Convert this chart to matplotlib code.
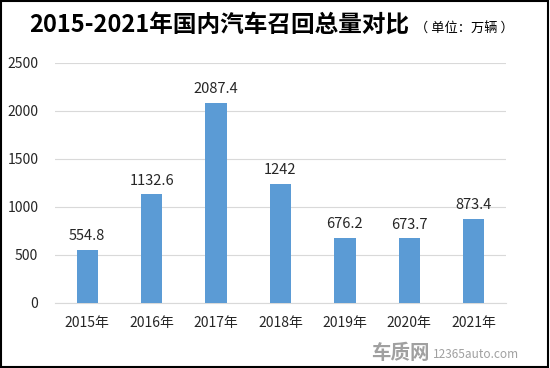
import numpy as np
import matplotlib.pyplot as plt
from matplotlib.patches import Rectangle

plt.rcParams['font.family'] = ['Noto Sans CJK SC', 'DejaVu Sans']

years = ['2015年', '2016年', '2017年', '2018年', '2019年', '2020年', '2021年']
recalls = [554.8, 1132.6, 2087.4, 1242, 676.2, 673.7, 873.4]
value_labels = ['554.8', '1132.6', '2087.4', '1242', '676.2', '673.7', '873.4']

fig = plt.figure(figsize=(5.5, 3.68), dpi=100)
ax = fig.add_axes([55/550, 1-303/368, 451/550, 240/368])

x = np.arange(len(years))
ax.bar(x, recalls, width=0.33, color='#5B9BD5', zorder=3)
for xi, v, s in zip(x, recalls, value_labels):
    ax.text(xi, v + 70, s, ha='center', va='bottom', fontsize=10.5, color='#262626')

ax.set_xlim(-0.5, len(years) - 0.5)
ax.set_ylim(0, 2500)
ax.set_yticks(np.arange(0, 2501, 500))
ax.set_xticks(x)
ax.set_xticklabels(years)
ax.tick_params(length=0, labelsize=10, labelcolor='#262626')
ax.tick_params(axis='x', pad=9)
ax.tick_params(axis='y', pad=12)
ax.grid(axis='y', color='#D9D9D9', linewidth=0.8, zorder=0)
for sp in ['top', 'right', 'left']:
    ax.spines[sp].set_visible(False)
ax.spines['bottom'].set_color('#D9D9D9')

fig.text(219/550, 1-25/368, '2015-2021年国内汽车召回总量对比', ha='center', va='center',
         fontsize=17, fontweight='bold', color='black')
fig.text(464/550, 1-29/368, '（ 单位：万辆 ）', ha='center', va='center', fontsize=9.5, color='black')

fig.text(400/550, 1-353/368, '车质网', ha='center', va='center', fontsize=14,
         fontweight='bold', color='#a0a0a0')
fig.text(476/550, 1-355/368, '12365auto.com', ha='center', va='center', fontsize=8.5,
         color='#a0a0a0')

fig.patches.append(Rectangle((0.002, 0.003), 0.995, 0.994, transform=fig.transFigure,
                             fill=False, edgecolor='black', linewidth=1.5))

fig.savefig('out.png', dpi=100)
